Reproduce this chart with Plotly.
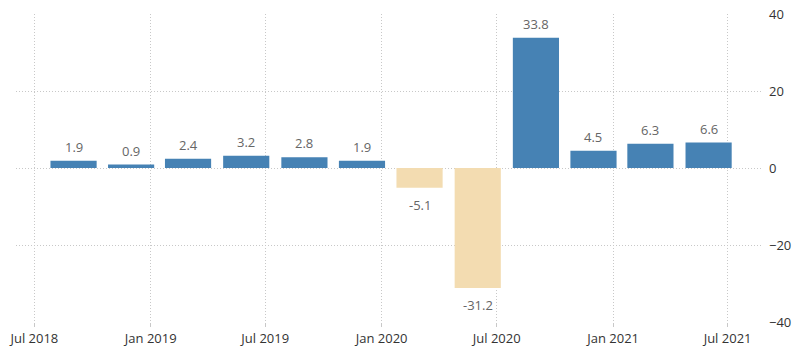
import plotly.graph_objects as go

dates = ["2018-09-01", "2018-12-01", "2019-03-01", "2019-06-01", "2019-09-01", "2019-12-01",
         "2020-03-01", "2020-06-01", "2020-09-01", "2020-12-01", "2021-03-01", "2021-06-01"]
values = [1.9, 0.9, 2.4, 3.2, 2.8, 1.9, -5.1, -31.2, 33.8, 4.5, 6.3, 6.6]
tick_dates = ["2018-07-01", "2019-01-01", "2019-07-01", "2020-01-01", "2020-07-01", "2021-01-01", "2021-07-01"]
tick_labels = ["Jul 2018", "Jan 2019", "Jul 2019", "Jan 2020", "Jul 2020", "Jan 2021", "Jul 2021"]
y_ticks = [-40, -20, 0, 20, 40]

POS = "#4682B4"
NEG = "#F3DCB1"
colors = [POS if v >= 0 else NEG for v in values]
FONT = "Open Sans, DejaVu Sans, sans-serif"
GRID = "#c8c8c8"

fig = go.Figure(go.Bar(
    x=dates, y=values, marker=dict(color=colors, line=dict(width=0)),
    width=[73 * 86400000] * len(values), hoverinfo="x+y",
))

for d, v in zip(dates, values):
    fig.add_annotation(
        x=d, y=v, text=f"{v:.1f}", showarrow=False,
        yanchor="middle", yshift=14 if v >= 0 else -17,
        font=dict(family=FONT, size=13, color="#666666"),
    )

fig.update_layout(
    width=800, height=358,
    margin=dict(l=16, r=37, t=14, b=36, autoexpand=False),
    plot_bgcolor="white", paper_bgcolor="white",
    showlegend=False,
    font=dict(family=FONT, size=13, color="#333333"),
    xaxis=dict(
        type="date", range=["2018-06-02", "2021-08-26"],
        tickvals=tick_dates, ticktext=tick_labels,
        showgrid=True, gridcolor=GRID, griddash="1px,2px", gridwidth=1,
        ticks="outside", ticklen=4, tickcolor=GRID,
        zeroline=False, showline=False, automargin=False,
    ),
    yaxis=dict(
        range=[-40, 40], tickvals=y_ticks, side="right",
        showgrid=True, gridcolor=GRID, griddash="1px,2px", gridwidth=1,
        zeroline=False, showline=False, ticks="", ticklabelstandoff=5,
        automargin=False,
    ),
)

fig.write_html(
    "out.html",
    config={"displayModeBar": False},
    post_script="document.body.style.margin='0';document.body.style.overflow='hidden';",
)
